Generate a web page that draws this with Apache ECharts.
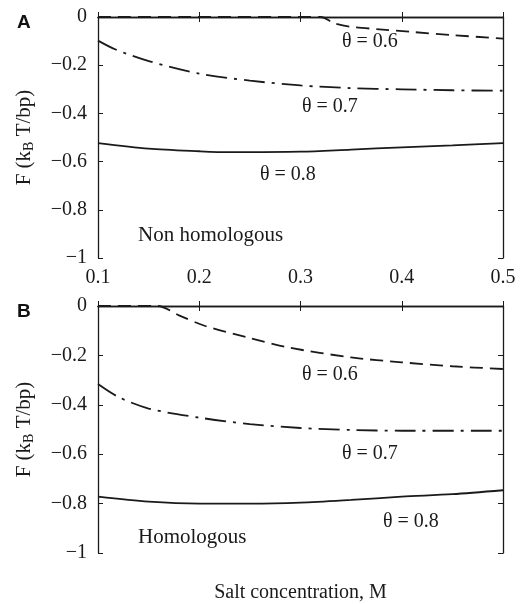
<!DOCTYPE html>
<html>
<head>
<meta charset="utf-8">
<script src="https://cdn.jsdelivr.net/npm/echarts@6/dist/echarts.min.js"></script>
<style>
  html, body { margin: 0; padding: 0; background: #fff; }
  #chart { width: 524px; height: 604px; }
</style>
</head>
<body>
<div id="chart"></div>
<script>
// panel A (non homologous)
const aX06 = [0.1, 0.2, 0.3, 0.32, 0.333, 0.349, 0.378, 0.41, 0.45, 0.5];
const aY06 = [0, 0, 0, 0, -0.025, -0.04, -0.051, -0.062, -0.075, -0.09];
const aX07 = [0.1, 0.118, 0.151, 0.2, 0.25, 0.3, 0.349, 0.4, 0.45, 0.5];
const aY07 = [-0.098, -0.136, -0.184, -0.235, -0.264, -0.284, -0.295, -0.3, -0.304, -0.306];
const aX08 = [0.1, 0.15, 0.2, 0.23, 0.3, 0.35, 0.4, 0.45, 0.5];
const aY08 = [-0.523, -0.546, -0.557, -0.561, -0.559, -0.55, -0.541, -0.533, -0.523];

// panel B (homologous)
const bX06 = [0.1, 0.159, 0.18, 0.206, 0.25, 0.288, 0.35, 0.4, 0.45, 0.5];
const bY06 = [0, 0, -0.038, -0.081, -0.13, -0.168, -0.208, -0.228, -0.244, -0.255];
const bX07 = [0.1, 0.12, 0.15, 0.2, 0.25, 0.3, 0.35, 0.4, 0.5];
const bY07 = [-0.316, -0.368, -0.415, -0.452, -0.478, -0.494, -0.502, -0.505, -0.505];
const bX08 = [0.1, 0.15, 0.2, 0.25, 0.3, 0.35, 0.4, 0.45, 0.5];
const bY08 = [-0.772, -0.792, -0.8, -0.8, -0.796, -0.785, -0.772, -0.762, -0.746];

const xTicks = [0.1, 0.2, 0.3, 0.4, 0.5];
const yTicks = [0, -0.2, -0.4, -0.6, -0.8, -1];

const serif = '"Liberation Serif", "DejaVu Serif", serif';
const ink = '#1a1a1a';

const pairs = (xs, ys) => xs.map((x, i) => [x, ys[i]]);
const fmtY = (v) => (v === 0 ? '0' : '\u2212' + String(Math.abs(+v.toFixed(1))));

const mainX = (gi, showLabels, name) => ({
  type: 'value', gridIndex: gi, min: 0.1, max: 0.5, interval: 0.1,
  axisLine: { show: true, lineStyle: { color: ink, width: 1.3 } },
  axisTick: { show: true, inside: true, length: 5, lineStyle: { color: ink } },
  axisLabel: {
    show: showLabels, color: ink, fontFamily: serif, fontSize: 20, margin: 10,
    formatter: (v) => String(+v.toFixed(1)),
    showMinLabel: true, showMaxLabel: true,
  },
  splitLine: { show: false },
  name: name || '', nameLocation: 'middle', nameGap: 30,
  nameTextStyle: { color: ink, fontFamily: serif, fontSize: 20 },
});
const topX = (gi) => ({
  type: 'value', gridIndex: gi, position: 'top', min: 0.1, max: 0.5, interval: 0.1,
  axisLine: { show: true, lineStyle: { color: ink, width: 1.3 } },
  axisTick: { show: true, inside: true, length: 5, lineStyle: { color: ink } },
  axisLabel: { show: false }, splitLine: { show: false },
});
const mainY = (gi) => ({
  type: 'value', gridIndex: gi, min: -1, max: 0, interval: 0.2,
  axisLine: { show: true, lineStyle: { color: ink, width: 1.3 } },
  axisTick: { show: true, inside: true, length: 5, lineStyle: { color: ink } },
  axisLabel: { color: ink, fontFamily: serif, fontSize: 20, margin: 11, formatter: fmtY },
  splitLine: { show: false },
  name: 'F (k{sub|B} T/bp)', nameLocation: 'middle', nameGap: 62, nameRotate: 90,
  nameTextStyle: {
    color: ink, fontFamily: serif, fontSize: 21,
    rich: { sub: { fontFamily: serif, fontSize: 14, color: ink, verticalAlign: 'bottom', padding: [10, 0, 0, 0] } },
  },
});
const rightY = (gi) => ({
  type: 'value', gridIndex: gi, position: 'right', min: -1, max: 0, interval: 0.2,
  axisLine: { show: true, lineStyle: { color: ink, width: 1.3 } },
  axisTick: { show: true, inside: true, length: 5, lineStyle: { color: ink } },
  axisLabel: { show: false }, splitLine: { show: false },
});

const line = (name, xi, yi, data, type) => ({
  name, type: 'line', xAxisIndex: xi, yAxisIndex: yi, data,
  smooth: 0.3, showSymbol: false, silent: true,
  lineStyle: { color: ink, width: 1.8, type },
});

const dashed = [13, 7];
const dashDot = [21, 7, 3, 7];

const note = (text, left, top, size) => ({
  type: 'text', left, top,
  style: { text, font: (size || 20) + 'px ' + serif, fill: ink },
});

const chart = echarts.init(document.getElementById('chart'), null, { renderer: 'canvas' });

chart.setOption({
  backgroundColor: '#fff',
  animation: false,
  grid: [
    { left: 98, top: 17, width: 405, height: 241 },
    { left: 98, top: 306, width: 405, height: 256 },
  ],
  xAxis: [mainX(0, true), topX(0), mainX(1, false, 'Salt concentration, M'), topX(1)],
  yAxis: [mainY(0), rightY(0), mainY(1), rightY(1)],
  series: [
    line('A θ=0.6', 0, 0, pairs(aX06, aY06), dashed),
    line('A θ=0.7', 0, 0, pairs(aX07, aY07), dashDot),
    line('A θ=0.8', 0, 0, pairs(aX08, aY08), 'solid'),
    line('B θ=0.6', 2, 2, pairs(bX06, bY06), dashed),
    line('B θ=0.7', 2, 2, pairs(bX07, bY07), dashDot),
    line('B θ=0.8', 2, 2, pairs(bX08, bY08), 'solid'),
  ],
  graphic: [
    { type: 'text', left: 17, top: 13, style: { text: 'A', font: 'bold 19px "Liberation Sans", Arial, sans-serif', fill: '#111' } },
    { type: 'text', left: 17, top: 302, style: { text: 'B', font: 'bold 19px "Liberation Sans", Arial, sans-serif', fill: '#111' } },
    note('θ = 0.6', 342, 32),
    note('θ = 0.7', 302, 97),
    note('θ = 0.8', 260, 165),
    note('Non homologous', 138, 225, 21),
    note('θ = 0.6', 302, 365),
    note('θ = 0.7', 342, 444),
    note('θ = 0.8', 383, 512),
    note('Homologous', 138, 527, 21),
  ],
});
</script>
</body>
</html>
